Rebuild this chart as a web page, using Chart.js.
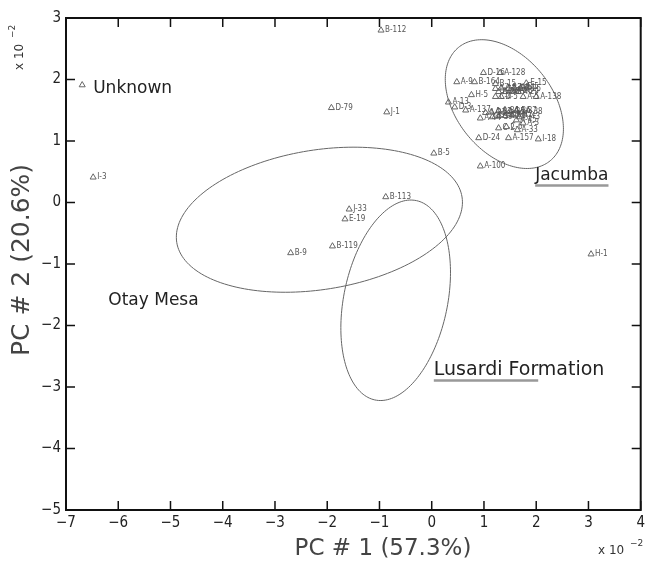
<!DOCTYPE html>
<html><head><meta charset="utf-8">
<script src="https://cdn.jsdelivr.net/npm/chart.js@4.4.0/dist/chart.umd.min.js"></script>
<style>html,body{margin:0;padding:0;background:#fff;}#wrap{width:649px;height:566px;}</style>
</head><body><div id="wrap"><canvas id="c" width="649" height="566"></canvas></div>
<script>
// ---- data (PC scores, units of 10^-2) ----
const sampleNames = [
  '', 'I-3', 'D-79', 'J-1', 'B-112', 'B-5', 'J-33', 'E-19', 'B-113', 'B-119', 'B-9', 'H-1', 'A-100',
  'D-16', 'A-128', 'A-9', 'B-164', 'B-15', 'E-15',
  'A-21', 'A-22', 'A-23', 'A-24', 'A-25', 'A-26', 'A-27', 'A-28', 'A-29', 'E-5',
  'H-5', 'C-4', 'D-5', 'A-5', 'A-138', 'A-13', 'D-3', 'A-137',
  'A-31', 'A-32', 'A-34', 'A-35', 'A-36', 'A-37', 'A-38', 'A-39', 'A-40', 'A-41', 'A-42', 'A-43', 'A-44',
  'A-3', 'A-45', 'C-2', 'C-6', 'A-33', 'D-24', 'A-157', 'I-18'
];
const pc1 = [
  -6.69, -6.48, -1.92, -0.86, -0.97, 0.04, -1.58, -1.66, -0.88, -1.90, -2.70, 3.05, 0.93,
  0.99, 1.31, 0.48, 0.82, 1.22, 1.81,
  1.22, 1.33, 1.47, 1.58, 1.70, 1.28, 1.41, 1.54, 1.66, 1.75,
  0.76, 1.22, 1.33, 1.75, 2.00, 0.32, 0.44, 0.65,
  1.03, 1.14, 1.28, 1.39, 1.50, 1.62, 1.73, 1.16, 1.28, 1.41, 1.54, 1.68, 0.93,
  1.75, 1.62, 1.28, 1.43, 1.64, 0.90, 1.47, 2.04
];
const pc2 = [
  1.91, 0.41, 1.54, 1.47, 2.80, 0.80, -0.11, -0.27, 0.09, -0.71, -0.82, -0.84, 0.59,
  2.11, 2.11, 1.96, 1.96, 1.93, 1.94,
  1.85, 1.86, 1.85, 1.86, 1.85, 1.80, 1.80, 1.81, 1.80, 1.88,
  1.75, 1.72, 1.72, 1.72, 1.72, 1.63, 1.55, 1.50,
  1.46, 1.47, 1.49, 1.47, 1.49, 1.49, 1.47, 1.39, 1.41, 1.41, 1.42, 1.39, 1.37,
  1.29, 1.34, 1.21, 1.23, 1.18, 1.05, 1.05, 1.03
];
const xTickValues = [-7, -6, -5, -4, -3, -2, -1, 0, 1, 2, 3, 4];
const yTickValues = [-5, -4, -3, -2, -1, 0, 1, 2, 3];
const xTitle = 'PC # 1 (57.3%)';
const yTitle = 'PC # 2 (20.6%)';

// group confidence ellipses: centre and two conjugate half-axes (data units)
const groupNames = ['Otay Mesa', 'Lusardi Formation', 'Jacumba'];
const ellipseCX = [-2.15, -0.69, 1.39];
const ellipseCY = [-0.28, -1.59, 1.60];
const ellipseUX = [2.73, 0.40, 0.88];
const ellipseUY = [0.37, 1.62, -0.92];
const ellipseVX = [0.21, 0.97, -0.71];
const ellipseVY = [-1.12, -0.18, -0.50];

// group name annotations
const annotText = ['Unknown', 'Jacumba', 'Otay Mesa', 'Lusardi Formation'];
const annotX = [-6.48, 1.98, -6.19, 0.04];
const annotY = [1.86, 0.43, -1.59, -2.72];
const annotUnderlineChars = [0, 7, 0, 11];

// styles
const annotFontSize = [17, 17, 17, 19];
const points = pc1.map((v, i) => ({x: v, y: pc2[i]}));
const tickFamily = "'Liberation Sans Narrow', 'DejaVu Sans Condensed', sans-serif";

const overlay = {
  id: 'overlay',
  afterDatasetsDraw(chart) {
    const ctx = chart.ctx, xs = chart.scales.x, ys = chart.scales.y, a = chart.chartArea;
    ctx.save();
    // ellipses
    ctx.strokeStyle = '#666';
    ctx.lineWidth = 1;
    for (let k = 0; k < ellipseCX.length; k++) {
      ctx.beginPath();
      for (let d = 0; d <= 360; d += 2) {
        const t = d * Math.PI / 180;
        const vx = ellipseCX[k] + ellipseUX[k] * Math.cos(t) + ellipseVX[k] * Math.sin(t);
        const vy = ellipseCY[k] + ellipseUY[k] * Math.cos(t) + ellipseVY[k] * Math.sin(t);
        const px = xs.getPixelForValue(vx), py = ys.getPixelForValue(vy);
        if (d === 0) ctx.moveTo(px, py); else ctx.lineTo(px, py);
      }
      ctx.stroke();
    }
    // point labels
    const meta = chart.getDatasetMeta(0);
    ctx.fillStyle = '#555';
    ctx.font = "8px 'DejaVu Sans Condensed', 'DejaVu Sans', sans-serif";
    ctx.textBaseline = 'middle';
    ctx.textAlign = 'left';
    meta.data.forEach((el, i) => {
      if (sampleNames[i]) ctx.fillText(sampleNames[i], el.x + 4, el.y);
    });
    // annotations
    ctx.fillStyle = '#222';
    for (let k = 0; k < annotText.length; k++) {
      ctx.font = annotFontSize[k] + "px 'DejaVu Sans', sans-serif";
      const px = xs.getPixelForValue(annotX[k]), py = ys.getPixelForValue(annotY[k]);
      ctx.fillText(annotText[k], px, py);
      if (annotUnderlineChars[k]) {
        const w = ctx.measureText(annotText[k].slice(0, annotUnderlineChars[k])).width;
        ctx.strokeStyle = '#999';
        ctx.lineWidth = 2.5;
        ctx.beginPath();
        ctx.moveTo(px, py + annotFontSize[k] * 0.56); ctx.lineTo(px + w, py + annotFontSize[k] * 0.56);
        ctx.stroke();
      }
    }
    // frame
    ctx.strokeStyle = '#111';
    ctx.lineWidth = 2;
    ctx.strokeRect(a.left, a.top, a.right - a.left, a.bottom - a.top);
    // inward ticks on all sides
    ctx.lineWidth = 1.5;
    ctx.beginPath();
    xTickValues.forEach(v => {
      const px = xs.getPixelForValue(v);
      ctx.moveTo(px, a.bottom); ctx.lineTo(px, a.bottom - 9);
      ctx.moveTo(px, a.top); ctx.lineTo(px, a.top + 9);
    });
    yTickValues.forEach(v => {
      const py = ys.getPixelForValue(v);
      ctx.moveTo(a.left, py); ctx.lineTo(a.left + 9, py);
      ctx.moveTo(a.right, py); ctx.lineTo(a.right - 9, py);
    });
    ctx.stroke();
    // axis titles
    ctx.fillStyle = '#444';
    ctx.textAlign = 'center';
    ctx.textBaseline = 'middle';
    ctx.font = "23px 'DejaVu Sans', sans-serif";
    ctx.fillText(xTitle, 383, 549);
    ctx.save();
    ctx.translate(22, 260);
    ctx.rotate(-Math.PI / 2);
    ctx.font = "25px 'DejaVu Sans', sans-serif";
    ctx.fillText(yTitle, 0, 0);
    ctx.restore();
    // exponent labels
    ctx.fillStyle = '#333';
    ctx.textAlign = 'left';
    ctx.textBaseline = 'alphabetic';
    ctx.font = "12px 'DejaVu Sans', sans-serif";
    ctx.fillText('x 10', 598, 554);
    ctx.font = "9px 'DejaVu Sans', sans-serif";
    ctx.fillText('\u22122', 630, 546);
    ctx.translate(23, 70);
    ctx.rotate(-Math.PI / 2);
    ctx.font = "12px 'DejaVu Sans', sans-serif";
    ctx.fillText('x 10', 0, 0);
    ctx.font = "9px 'DejaVu Sans', sans-serif";
    ctx.fillText('\u22122', 32, -8);
    ctx.restore();
  }
};

new Chart(document.getElementById('c'), {
  type: 'scatter',
  data: {
    datasets: [{
      data: points,
      pointStyle: 'triangle',
      radius: 3.5,
      borderWidth: 1,
      borderColor: '#666',
      backgroundColor: 'rgba(0,0,0,0)'
    }]
  },
  options: {
    responsive: false,
    animation: false,
    devicePixelRatio: 1,
    layout: {padding: {top: 18, right: 6, left: 0, bottom: 0}},
    plugins: {legend: {display: false}, tooltip: {enabled: false}},
    scales: {
      x: {
        type: 'linear', min: -7, max: 4,
        afterBuildTicks: s => { s.ticks = xTickValues.map(v => ({value: v})); },
        ticks: {font: {family: tickFamily, size: 15}, color: '#222', padding: 4, maxRotation: 0,
          callback: v => String(v).replace('-', '\u2212')},
        grid: {display: false, drawTicks: false},
        border: {display: false},
        title: {display: false},
        afterFit: s => { s.height = 56; }
      },
      y: {
        type: 'linear', min: -5, max: 3,
        afterBuildTicks: s => { s.ticks = yTickValues.map(v => ({value: v})); },
        ticks: {font: {family: tickFamily, size: 15}, color: '#222', padding: 5,
          callback: v => String(v).replace('-', '\u2212')},
        grid: {display: false, drawTicks: false},
        border: {display: false},
        title: {display: false},
        afterFit: s => { s.width = 66; }
      }
    }
  },
  plugins: [overlay]
});
</script></body></html>
